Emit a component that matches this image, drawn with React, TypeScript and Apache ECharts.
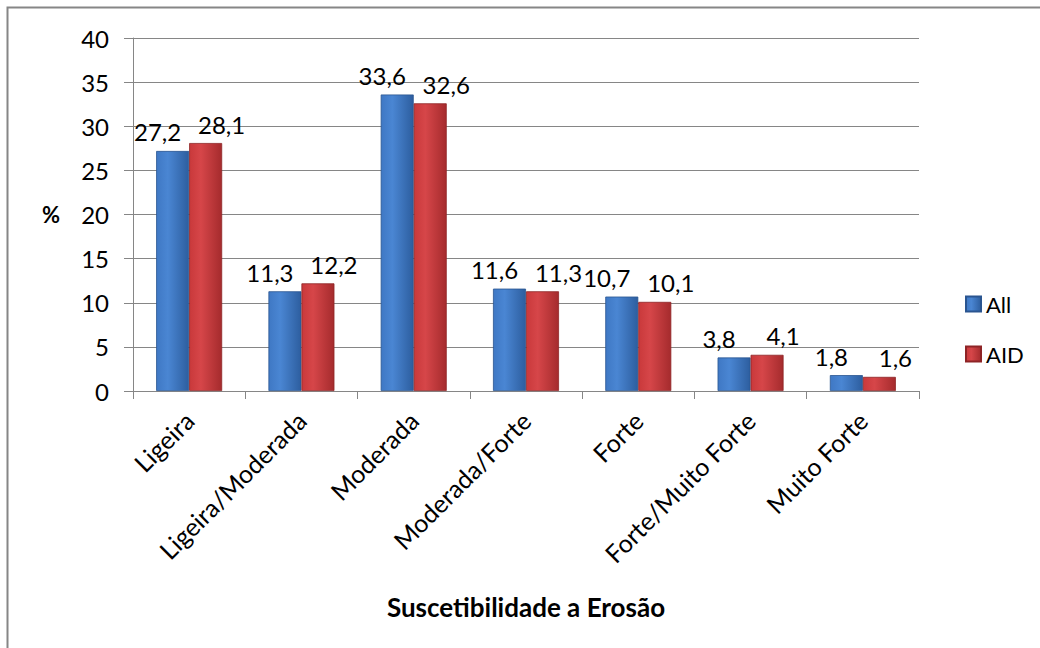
import React, { useEffect, useRef } from "react";
import * as echarts from "echarts";

const categories = ["Ligeira", "Ligeira/Moderada", "Moderada", "Moderada/Forte", "Forte", "Forte/Muito Forte", "Muito Forte"];
const seriesAll = [27.2, 11.3, 33.6, 11.6, 10.7, 3.8, 1.8];
const seriesAID = [28.1, 12.2, 32.6, 11.3, 10.1, 4.1, 1.6];
const yTicks = { min: 0, max: 40, interval: 5 };

const FONT = "Lato, 'Open Sans', sans-serif";

const blueGrad = new echarts.graphic.LinearGradient(0, 0, 1, 0, [
  { offset: 0, color: "#3f78c4" },
  { offset: 0.35, color: "#4a86d3" },
  { offset: 1, color: "#2d5e9f" },
]);
const redGrad = new echarts.graphic.LinearGradient(0, 0, 1, 0, [
  { offset: 0, color: "#c9393b" },
  { offset: 0.35, color: "#d64649" },
  { offset: 1, color: "#a52b2d" },
]);

export default function App() {
  const ref = useRef<HTMLDivElement>(null);
  useEffect(() => {
    if (!ref.current) return;
    const chart = echarts.init(ref.current, null, { renderer: "svg" });
    const fmt = (p: any) => String(p.value).replace(".", ",");
    chart.setOption({
      animation: false,
      backgroundColor: "#ffffff",
      textStyle: { fontFamily: FONT },
      graphic: [
        {
          type: "rect",
          shape: { x: 7.5, y: 7.5, width: 1100, height: 700 },
          style: { fill: "none", stroke: "#868686", lineWidth: 2 },
          silent: true,
        },
      ],
      grid: { left: 133, right: 121, top: 38, bottom: 257 },
      legend: {
        orient: "vertical",
        left: 960,
        top: 288,
        itemWidth: 15,
        itemHeight: 15,
        itemGap: 28,
        icon: "rect",
        textStyle: { fontSize: 22, color: "#000", fontFamily: FONT },
        data: ["All", "AID"],
      },
      xAxis: {
        type: "category",
        data: categories,
        name: "Suscetibilidade a Erosão",
        nameLocation: "middle",
        nameGap: 203,
        nameTextStyle: { fontSize: 26, fontWeight: "bold", color: "#000", fontFamily: FONT },
        axisLine: { lineStyle: { color: "#868686", width: 1 } },
        axisTick: { show: true, length: 8, alignWithLabel: false, lineStyle: { color: "#868686" } },
        axisLabel: { rotate: 45, fontSize: 25, color: "#000", margin: 25, interval: 0, fontFamily: FONT },
      },
      yAxis: {
        type: "value",
        min: yTicks.min,
        max: yTicks.max,
        interval: yTicks.interval,
        name: "%",
        nameLocation: "middle",
        nameRotate: 0,
        nameGap: 73,
        nameTextStyle: { fontSize: 22, fontWeight: "bold", color: "#000", fontFamily: FONT },
        axisLine: { show: true, lineStyle: { color: "#868686" } },
        axisTick: { show: true, length: 9, lineStyle: { color: "#868686" } },
        axisLabel: { fontSize: 24, color: "#000", margin: 24, fontFamily: FONT },
        splitLine: { lineStyle: { color: "#868686", width: 1 } },
      },
      series: [
        {
          name: "All",
          type: "bar",
          data: seriesAll,
          barWidth: 33,
          barGap: "0%",
          itemStyle: { color: blueGrad, borderColor: "#2a5590", borderWidth: 0.8 },
          label: {
            show: true,
            position: "top",
            distance: 7,
            offset: [-15, 0],
            fontSize: 24,
            color: "#000",
            fontFamily: FONT,
            formatter: fmt,
          },
        },
        {
          name: "AID",
          type: "bar",
          data: seriesAID,
          barWidth: 33,
          barGap: "0%",
          itemStyle: { color: redGrad, borderColor: "#8e2426", borderWidth: 0.8 },
          label: {
            show: true,
            position: "top",
            distance: 7,
            offset: [16, 0],
            fontSize: 24,
            color: "#000",
            fontFamily: FONT,
            formatter: fmt,
          },
        },
      ],
    });
    return () => chart.dispose();
  }, []);
  return (
    <div
      ref={ref}
      style={{ position: "fixed", left: 0, top: 0, width: 1040, height: 648, background: "#fff" }}
    />
  );
}
